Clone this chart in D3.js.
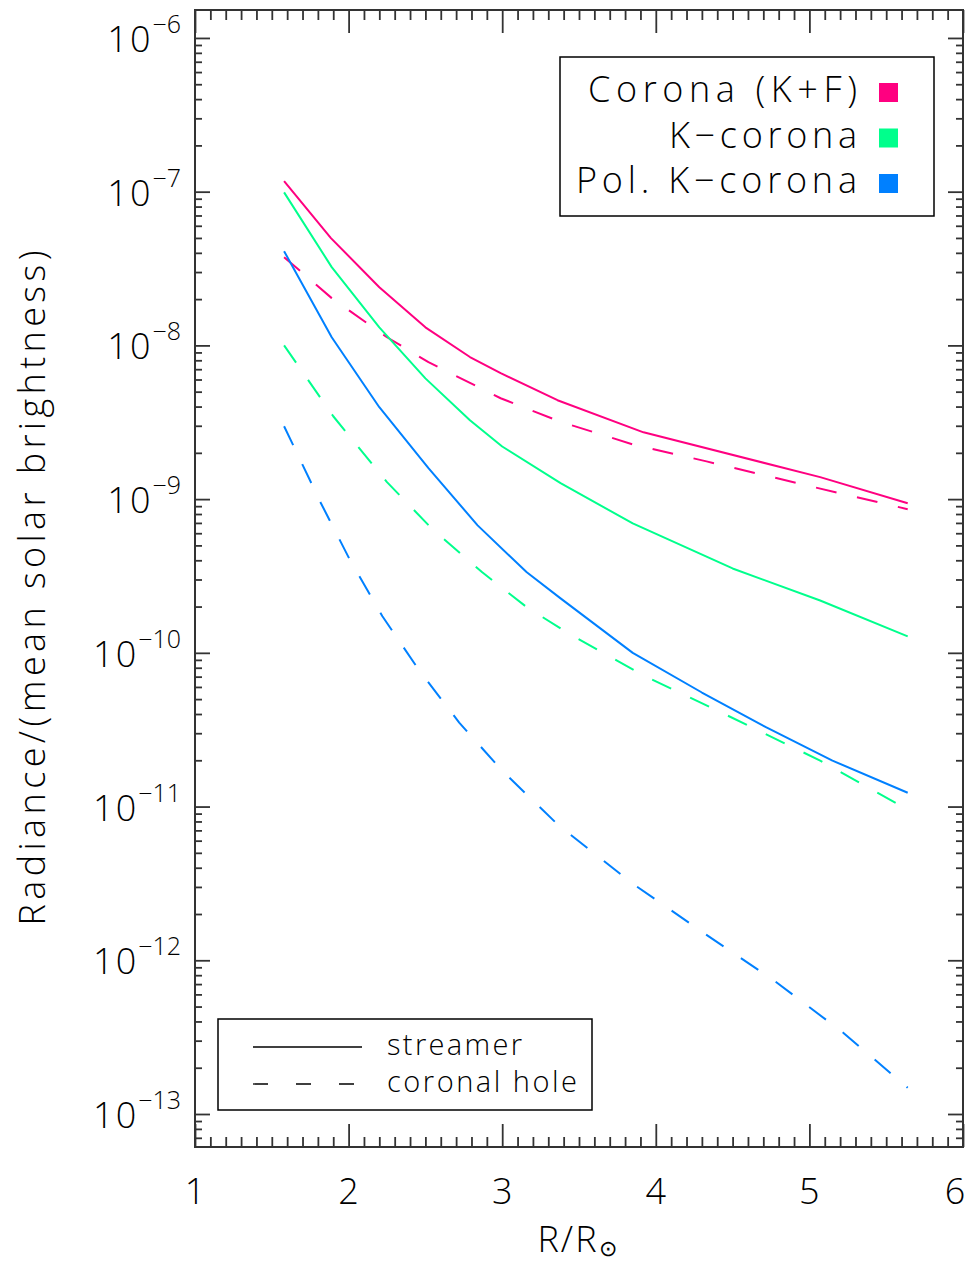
<!DOCTYPE html>
<html><head><meta charset="utf-8">
<script src="https://cdn.jsdelivr.net/npm/d3@7"></script>
<style>body{margin:0;background:#fff}text{font-family:"Open Sans","DejaVu Sans",sans-serif;font-weight:300;fill:#000}</style>
</head><body><svg id="c" width="971" height="1265"></svg>
<script>
// ---- data ----
const rCoronaStreamer = [1.58, 1.885, 2.2, 2.5, 2.79, 2.99, 3.36, 3.92, 5.07, 5.64];
const vCoronaStreamer = [1.17e-7, 4.99e-8, 2.39e-8, 1.31e-8, 8.4e-9, 6.6e-9, 4.4e-9, 2.72e-9, 1.39e-9, 9.4e-10];
const rCoronaHole = [1.58, 1.89, 2.25, 2.52, 2.99, 3.37, 3.85, 4.33, 5.01, 5.64];
const vCoronaHole = [3.75e-8, 2.03e-8, 1.13e-8, 7.78e-9, 4.53e-9, 3.21e-9, 2.27e-9, 1.76e-9, 1.21e-9, 8.6e-10];
const rKStreamer = [1.58, 1.89, 2.2, 2.5, 2.79, 3.0, 3.38, 3.85, 4.5, 5.07, 5.64];
const vKStreamer = [9.9e-8, 3.23e-8, 1.31e-8, 6.1e-9, 3.26e-9, 2.2e-9, 1.27e-9, 6.95e-10, 3.54e-10, 2.19e-10, 1.28e-10];
const rKHole = [1.58, 1.9, 2.25, 2.54, 2.87, 3.16, 3.43, 3.92, 4.44, 5.07, 5.64];
const vKHole = [1.0e-8, 3.46e-9, 1.29e-9, 6.46e-10, 3.34e-10, 1.98e-10, 1.34e-10, 7.13e-11, 4.03e-11, 1.99e-11, 9.55e-12];
const rPolStreamer = [1.58, 1.89, 2.2, 2.52, 2.84, 3.16, 3.38, 3.85, 4.3, 4.72, 5.15, 5.64];
const vPolStreamer = [4.1e-8, 1.13e-8, 3.96e-9, 1.59e-9, 6.75e-10, 3.34e-10, 2.26e-10, 1.0e-10, 5.52e-11, 3.27e-11, 1.99e-11, 1.23e-11];
const rPolHole = [1.58, 1.82, 2.01, 2.22, 2.46, 2.72, 3.0, 3.37, 3.85, 4.31, 4.78, 5.22, 5.64];
const vPolHole = [2.98e-9, 9.4e-10, 4.0e-10, 1.73e-10, 7.68e-11, 3.52e-11, 1.71e-11, 7.5e-12, 3.15e-12, 1.51e-12, 7.26e-13, 3.38e-13, 1.48e-13];

const xTickValues = [1, 2, 3, 4, 5, 6];
const yExponents = [-6, -7, -8, -9, -10, -11, -12, -13];
const legendNames = ["Corona (K+F)", "K\u2212corona", "Pol. K\u2212corona"];
const legendColors = ["#ff0080", "#00ff8c", "#0080ff"];
const styleNames = ["streamer", "coronal hole"];

// ---- layout ----
const L = 195, R = 963, T = 10, B = 1147;
const svg = d3.select("#c");
const x = d3.scaleLinear().domain([1, 6]).range([L, R]);
const y = d3.scaleLog().domain([6.1e-14, 1.52e-6]).range([B, T]);

const series = [
  {r: rCoronaStreamer, v: vCoronaStreamer, c: 0, dash: false},
  {r: rCoronaHole, v: vCoronaHole, c: 0, dash: true},
  {r: rKStreamer, v: vKStreamer, c: 1, dash: false},
  {r: rKHole, v: vKHole, c: 1, dash: true},
  {r: rPolStreamer, v: vPolStreamer, c: 2, dash: false},
  {r: rPolHole, v: vPolHole, c: 2, dash: true}
];
const line = d3.line().x(d => x(d[0])).y(d => y(d[1]));
series.forEach(s => {
  svg.append("path").datum(s.r.map((r, i) => [r, s.v[i]]))
    .attr("d", line).attr("fill", "none")
    .attr("stroke", legendColors[s.c]).attr("stroke-width", 2)
    .attr("stroke-linejoin", "round")
    .attr("stroke-dasharray", s.dash ? "21,21" : null);
});

// ---- axes / ticks ----
const xMinor = d3.range(10, 61).map(d => d / 10).filter(d => Math.abs(d - Math.round(d)) > 1e-9);
const yMajor = yExponents.map(e => Math.pow(10, e));
const yMinor = [];
for (let e = -14; e <= -6; e++) for (let k = 2; k <= 9; k++) {
  const v = k * Math.pow(10, e);
  if (v > y.domain()[0] && v < y.domain()[1]) yMinor.push(v);
}
function ax(gen, tr, vals, size) {
  const g = svg.append("g").attr("transform", tr)
    .call(gen.tickValues(vals).tickSize(size).tickFormat(""));
  g.select(".domain").remove();
  g.selectAll("line").attr("stroke", "#333").attr("stroke-width", 1.8);
}
ax(d3.axisBottom(x), `translate(0,${B})`, xTickValues, -23);
ax(d3.axisBottom(x), `translate(0,${B})`, xMinor, -10);
ax(d3.axisTop(x), `translate(0,${T})`, xTickValues, -23);
ax(d3.axisTop(x), `translate(0,${T})`, xMinor, -10);
ax(d3.axisLeft(y), `translate(${L},0)`, yMajor, -15);
ax(d3.axisLeft(y), `translate(${L},0)`, yMinor, -7);
ax(d3.axisRight(y), `translate(${R},0)`, yMajor, -15);
ax(d3.axisRight(y), `translate(${R},0)`, yMinor, -7);

svg.append("rect").attr("x", L).attr("y", T).attr("width", R - L).attr("height", B - T)
  .attr("fill", "none").attr("stroke", "#333").attr("stroke-width", 2);

// tick labels
svg.selectAll(".xl").data(xTickValues).enter().append("text")
  .attr("x", d => Math.min(x(d), 955)).attr("y", 1204).attr("text-anchor", "middle")
  .attr("font-size", 36).text(d => d);
const yl = svg.selectAll(".yl").data(yExponents).enter().append("text")
  .attr("x", 181).attr("y", d => y(Math.pow(10, d)) + 14).attr("text-anchor", "end")
  .attr("font-size", 36);
yl.append("tspan").attr("letter-spacing", 2).text("10");
yl.append("tspan").attr("dy", -19).attr("font-size", 25).text(d => "\u2212" + (-d));

// axis titles
svg.append("text").attr("transform", "translate(45,588) rotate(-90)")
  .attr("text-anchor", "middle").attr("font-size", 36)
  .attr("textLength", 675).attr("lengthAdjust", "spacing")
  .text("Radiance/(mean solar brightness)");
const xt = svg.append("text").attr("x", 578).attr("y", 1252).attr("text-anchor", "middle")
  .attr("font-size", 36).attr("letter-spacing", 2);
xt.append("tspan").text("R/R");
xt.append("tspan").attr("dy", 4).attr("font-size", 22).text("\u2299");

// ---- legend 1 (colours) ----
svg.append("rect").attr("x", 560).attr("y", 57).attr("width", 374).attr("height", 159)
  .attr("fill", "none").attr("stroke", "#000").attr("stroke-width", 1.5);
const legLens = [269, 188, 281];
legendNames.forEach((n, i) => {
  const by = 102 + i * 45.5;
  svg.append("text").attr("x", 857).attr("y", by).attr("text-anchor", "end")
    .attr("font-size", 36).attr("textLength", legLens[i]).attr("lengthAdjust", "spacing").text(n);
  svg.append("rect").attr("x", 879).attr("y", by - 19).attr("width", 19).attr("height", 19)
    .attr("fill", legendColors[i]);
});

// ---- legend 2 (line styles) ----
svg.append("rect").attr("x", 218).attr("y", 1019).attr("width", 374).attr("height", 91)
  .attr("fill", "none").attr("stroke", "#000").attr("stroke-width", 1.5);
const styLens = [135, 190];
styleNames.forEach((n, i) => {
  const ly = 1047 + i * 37;
  svg.append("line").attr("x1", 253).attr("x2", 362).attr("y1", ly).attr("y2", ly)
    .attr("stroke", "#000").attr("stroke-width", 1.3)
    .attr("stroke-dasharray", i ? "15,28" : null);
  svg.append("text").attr("x", 387).attr("y", ly + 8).attr("font-size", 29)
    .attr("textLength", styLens[i]).attr("lengthAdjust", "spacing").text(n);
});
</script></body></html>
